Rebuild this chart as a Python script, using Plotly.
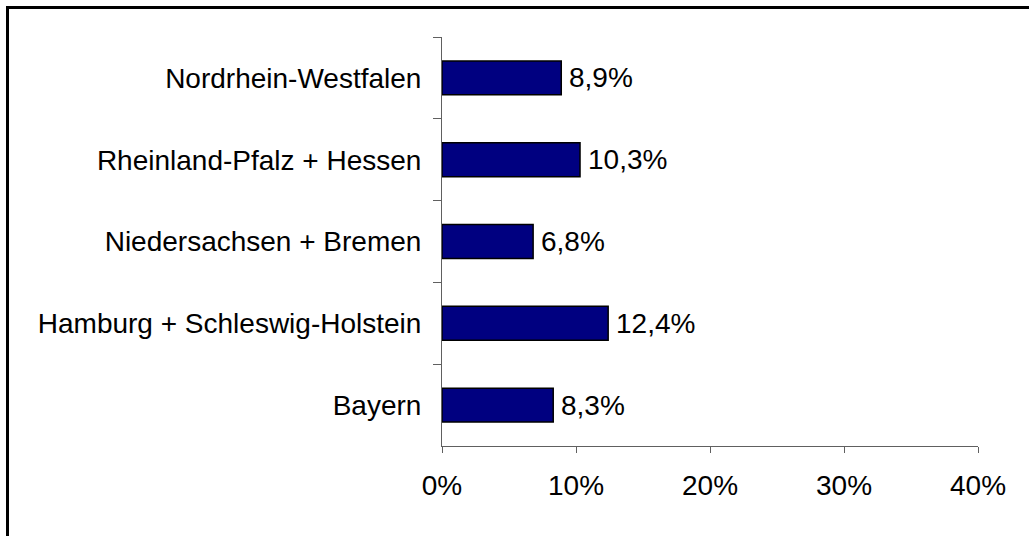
import plotly.graph_objects as go

categories = [
    "Nordrhein-Westfalen",
    "Rheinland-Pfalz + Hessen",
    "Niedersachsen + Bremen",
    "Hamburg + Schleswig-Holstein",
    "Bayern",
]
values = [8.9, 10.3, 6.8, 12.4, 8.3]
x_ticks = [0, 10, 20, 30, 40]

FONT = "Liberation Sans, Arial, sans-serif"

fig = go.Figure(
    go.Bar(
        x=values,
        y=categories,
        orientation="h",
        marker=dict(color="#000080", line=dict(color="black", width=1.5)),
        hoverinfo="skip",
    )
)

for v, c in zip(values, categories):
    fig.add_annotation(
        x=v, y=c, xref="x", yref="y",
        text=f"{v:.1f}%".replace(".", ","),
        showarrow=False, xanchor="left", yanchor="middle", xshift=6,
        font=dict(family=FONT, size=28, color="black"),
    )

L, R, T, B = 442, 51, 37, 90
W, H = 1029, 536
pw, ph = W - L - R, H - T - B

def px_x(p):
    return (p - L) / pw

def px_y(p):
    return (H - B - p) / ph

fig.add_shape(
    type="rect", xref="paper", yref="paper",
    x0=px_x(7.5), x1=px_x(W + 10), y0=px_y(H + 10), y1=px_y(7.5),
    line=dict(color="black", width=3), fillcolor="rgba(0,0,0,0)", layer="below",
)

fig.update_layout(
    width=W, height=H,
    margin=dict(l=L, r=R, t=T, b=B, pad=0),
    paper_bgcolor="white", plot_bgcolor="white",
    separators=",.",
    bargap=0.585,
    showlegend=False,
    font=dict(family=FONT, size=28, color="black"),
    xaxis=dict(
        range=[0, 40], tickvals=x_ticks, ticktext=[f"{t}%" for t in x_ticks],
        showgrid=False, zeroline=False, showline=True, linecolor="#606060", linewidth=1,
        ticks="outside", ticklen=6, tickcolor="#606060", tickwidth=1,
        tickfont=dict(family=FONT, size=28, color="black"),
        ticklabelstandoff=8,
        fixedrange=True,
    ),
    yaxis=dict(
        autorange="reversed", type="category",
        showgrid=False, zeroline=False, showline=True, linecolor="#606060", linewidth=1,
        ticks="outside", ticklen=8, tickcolor="#606060", tickwidth=1,
        tickson="boundaries",
        tickfont=dict(family=FONT, size=28, color="black"),
        ticklabelstandoff=14,
        fixedrange=True,
    ),
)

fig.write_html(
    "out.html",
    config={"displayModeBar": False},
    post_script="document.body.style.margin='0';document.body.style.overflow='hidden';",
)
